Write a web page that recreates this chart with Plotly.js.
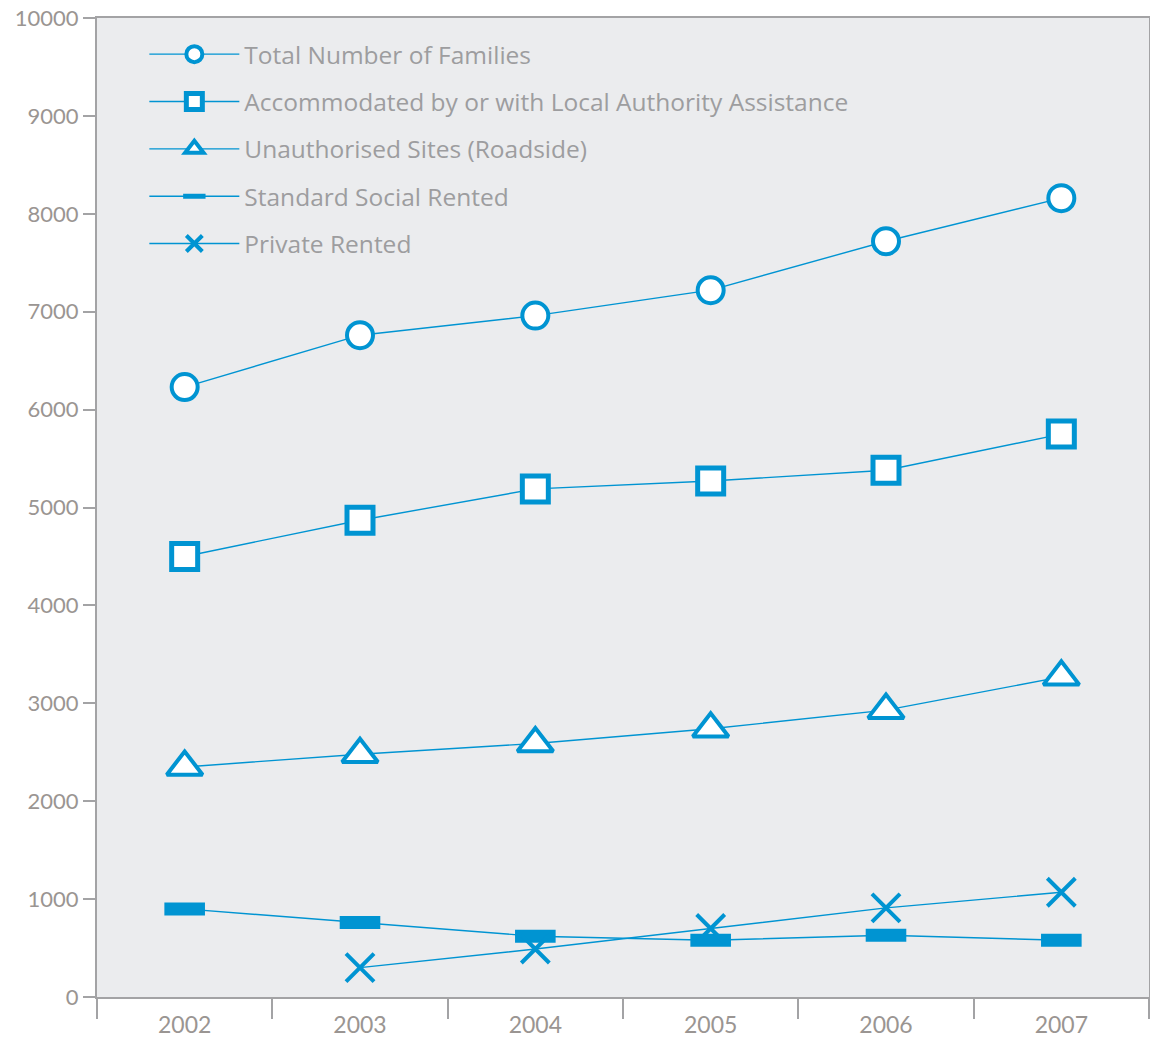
<!DOCTYPE html>
<html>
<head>
<meta charset="utf-8">
<script src="https://cdn.plot.ly/plotly-3.0.1.min.js"></script>
<style>html,body{margin:0;padding:0;background:#fff;}#chart{width:1150px;height:1041px;}</style>
</head>
<body>
<div id="chart"></div>
<script>
const years = ["2002", "2003", "2004", "2005", "2006", "2007"];
const totalFamilies = [6230, 6760, 6960, 7220, 7720, 8160];
const localAuthority = [4500, 4870, 5190, 5270, 5380, 5750];
const unauthorisedSites = [2350, 2480, 2590, 2740, 2930, 3270];
const socialRented = [900, 760, 620, 580, 630, 580];
const privateRented = [null, 300, 490, 700, 910, 1070];
const seriesNames = [
  "Total Number of Families",
  "Accommodated by or with Local Authority Assistance",
  "Unauthorised Sites (Roadside)",
  "Standard Social Rented",
  "Private Rented"
];
const yTicks = [0, 1000, 2000, 3000, 4000, 5000, 6000, 7000, 8000, 9000, 10000];

const blue = "#0094d2";
const grey = "#a3a3a5";

function mk(y, name, marker, group) {
  return {
    type: "scatter", mode: "lines+markers", x: years, y: y, name: name,
    legendgroup: group, connectgaps: false,
    line: {color: blue, width: 1.4},
    marker: marker, hoverinfo: "x+y+name"
  };
}
const data = [
  mk(totalFamilies, seriesNames[0], {symbol: "circle", size: 26, color: "#ffffff", line: {color: blue, width: 4}}, "a"),
  mk(localAuthority, seriesNames[1], {symbol: "square", size: 26, color: "#ffffff", line: {color: blue, width: 5}}, "b"),
  mk(unauthorisedSites, seriesNames[2], {symbol: "triangle-up", size: 31, color: "#ffffff", line: {color: blue, width: 4}}, "c"),
  mk(socialRented, seriesNames[3], {symbol: "line-ew", size: 29, color: blue, line: {color: blue, width: 13}}, "d"),
  mk(privateRented, seriesNames[4], {symbol: "x-thin", size: 28, color: blue, line: {color: blue, width: 4}}, "e")
];

const layout = {
  width: 1150, height: 1041,
  margin: {l: 97, r: 1, t: 18, b: 44},
  paper_bgcolor: "#ffffff",
  plot_bgcolor: "#ebecee",
  font: {family: "Open Sans, sans-serif", color: "#9a9a9c"},
  showlegend: true,
  legend: {
    x: 0.045, y: 0.986, xanchor: "left", yanchor: "top",
    bgcolor: "rgba(0,0,0,0)",
    font: {size: 24.5, color: "#9d9d9f", family: "Open Sans, sans-serif"},
    traceorder: "grouped", tracegroupgap: 12.5,
    itemsizing: "trace", itemwidth: 90
  },
  xaxis: {
    type: "category", range: [-0.5, 5.5],
    showline: true, linecolor: grey, linewidth: 2, mirror: true,
    ticks: "outside", ticklen: 20, tickwidth: 2, tickcolor: grey,
    tickson: "boundaries", ticklabelstandoff: 6,
    showgrid: false, zeroline: false,
    tickfont: {size: 23, color: "#9a9592", family: "Lato, sans-serif"}
  },
  yaxis: {
    range: [0, 10000], tickvals: yTicks, ticktext: yTicks.map(String),
    showline: true, linecolor: grey, linewidth: 2, mirror: true,
    ticks: "outside", ticklen: 12, tickwidth: 2, tickcolor: grey,
    showgrid: false, zeroline: false,
    tickfont: {size: 22, color: "#9a9592", family: "Lato, sans-serif"}
  }
};

Plotly.newPlot("chart", data, layout, {displayModeBar: false, staticPlot: true});
</script>
</body>
</html>
